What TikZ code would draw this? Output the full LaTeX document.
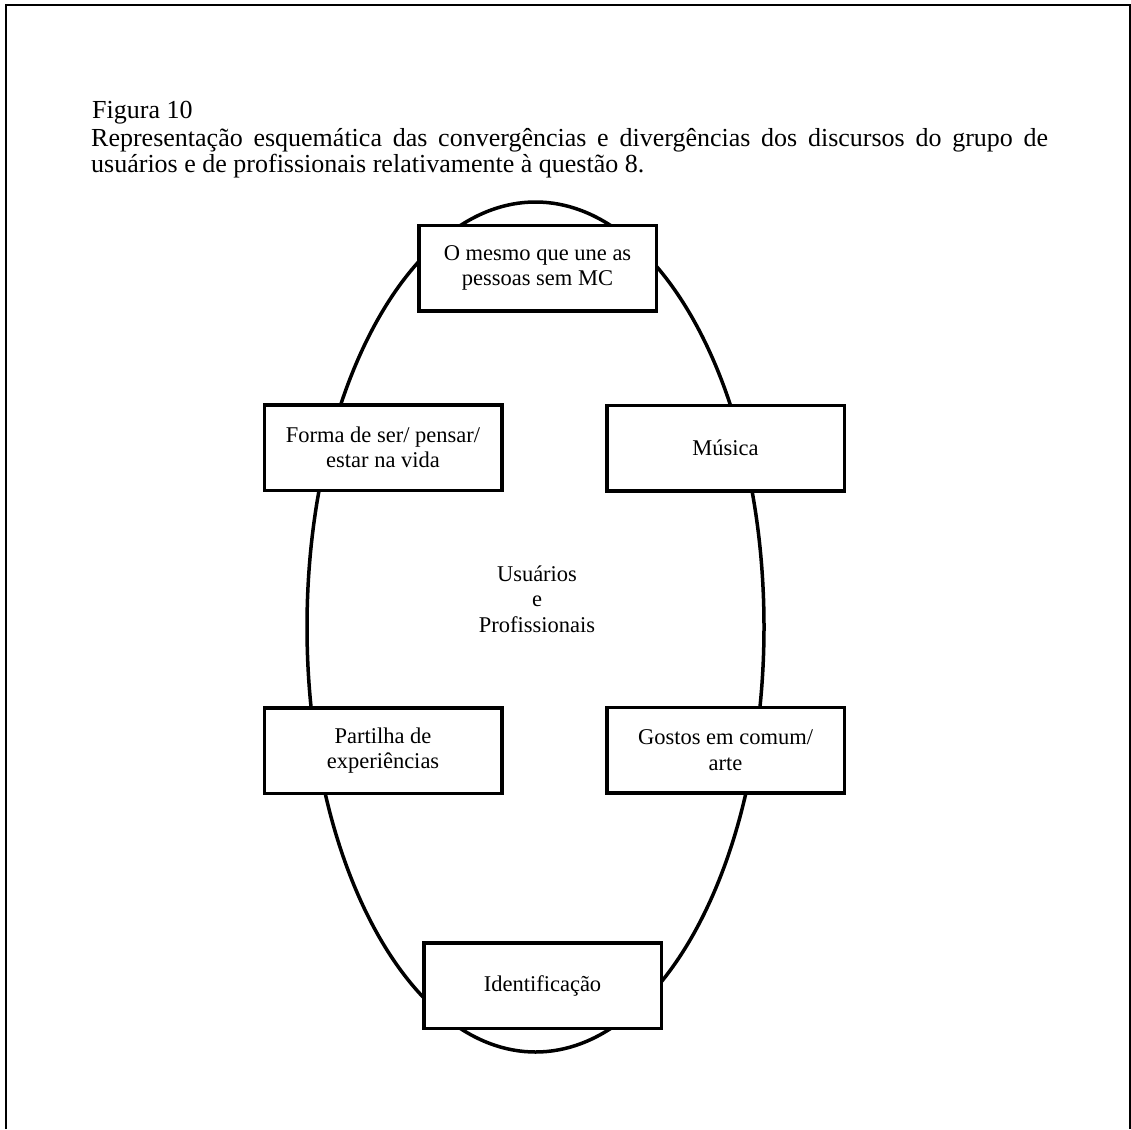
\documentclass[tikz,border=0pt]{standalone}
\usepackage{fontspec}
\setmainfont{Liberation Serif}
\tikzset{
  caixa/.style={draw, line width=3.5pt, fill=white, minimum width=237.5pt,
    minimum height=85.5pt, align=center, inner sep=0pt,
    font=\fontsize{22.5}{25.5}\selectfont},
  legenda/.style={anchor=base west, inner sep=0pt,
    font=\fontsize{26}{27}\selectfont},
}
\begin{document}
\begin{tikzpicture}[x=1pt,y=-1pt]
  \useasboundingbox (0,0) rectangle (1131,1129);
  % moldura
  \draw[line width=2pt] (5.5,1129) -- (5.5,5.5) -- (1129.5,5.5) -- (1129.5,1129);
  % legenda
  \node[legenda] (figura) at (92,118) {Figura 10};
  \node[legenda] (legendaA) at (91,146)
    {\makebox[957pt][s]{Representação esquemática das convergências e divergências dos discursos do grupo de}};
  \node[legenda] (legendaB) at (91,172)
    {usuários e de profissionais relativamente à questão 8.};
  % elipse
  \draw[line width=3.5pt] (535.5,627) ellipse (228.5pt and 425pt);
  \node[align=center, inner sep=0pt, font=\fontsize{22.5}{25.5}\selectfont]
    (centro) at (537,599) {Usuários\\e\\Profissionais};
  % caixas
  \node[caixa] (mesmo) at (537.5,268) {O mesmo que une as\\pessoas sem MC};
  \node[caixa] (forma) at (383,447.5) {Forma de ser/ pensar/\\estar na vida};
  \node[caixa] (musica) at (725.5,448) {Música};
  \node[caixa] (partilha) at (383,750.5) {Partilha de\\experiências};
  \node[caixa] (gostos) at (725.5,750) {Gostos em comum/\\arte};
  \node[caixa] (identificacao) at (542.5,985.5) {Identificação};
\end{tikzpicture}
\end{document}
